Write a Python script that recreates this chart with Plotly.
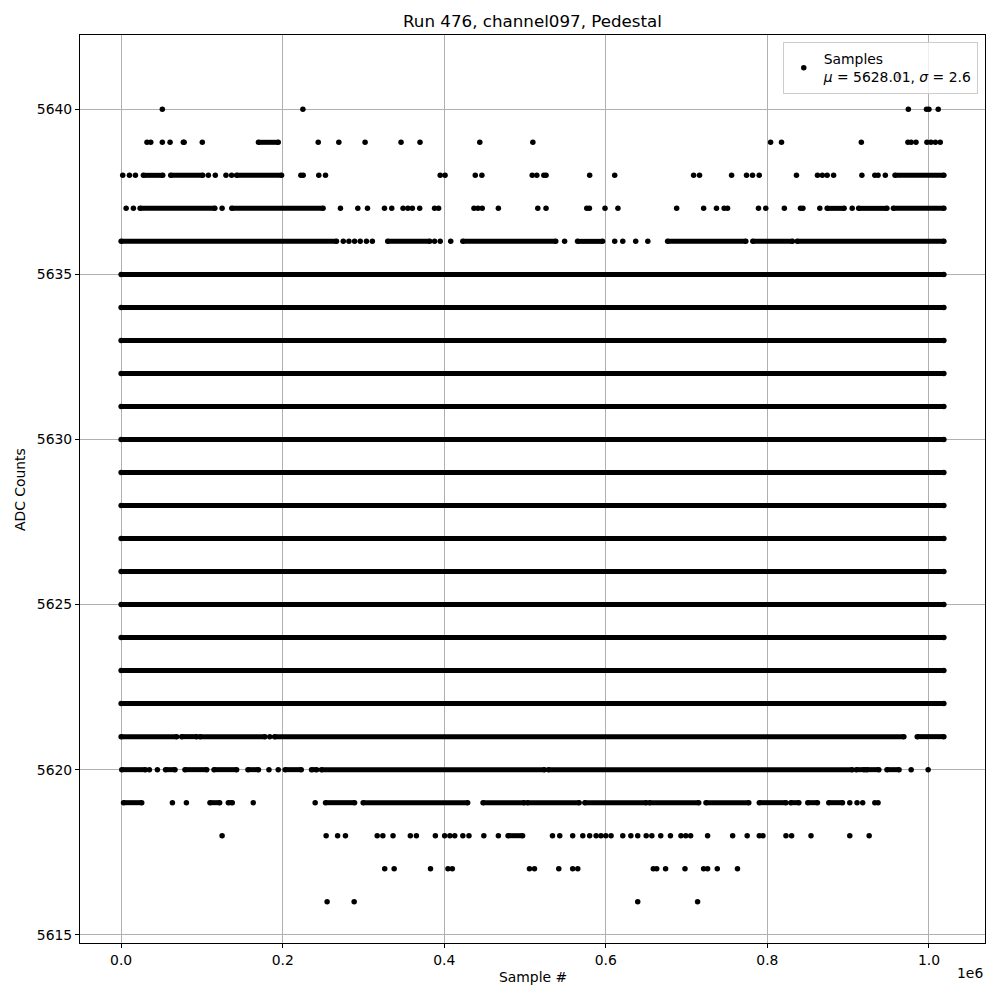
import plotly.graph_objects as go

# x values in units of the axis multiplier (1e6 samples)
X_UNIT = 1e6
X_END = 1.0185  # last sample (x1e6)

# Isolated samples per ADC value (x in 1e6 samples)
pts_5641 = [0.963]
pts_5640 = [0.051, 0.225, 0.9745, 0.997, 1.000, 1.0115]
pts_5639 = [0.032, 0.0367, 0.051, 0.0606, 0.077, 0.078, 0.1005, 0.244, 0.2695, 0.302,
            0.3465, 0.370, 0.444, 0.5097, 0.804, 0.8175, 0.9163, 0.974, 0.978, 0.984,
            0.9975, 1.0025, 1.008, 1.014]
pts_5638 = [0.002, 0.0103, 0.0177, 0.108, 0.1166, 0.1298, 0.1368, 0.2225, 0.2254, 0.2447,
            0.253, 0.395, 0.401, 0.4384, 0.4466, 0.5089, 0.5146, 0.5233, 0.526, 0.580,
            0.611, 0.7087, 0.716, 0.7557, 0.7742, 0.7816, 0.7899, 0.836, 0.862, 0.868,
            0.874, 0.882, 0.917, 0.933, 0.937, 0.946]
pts_5637 = [0.0062, 0.0152, 0.125, 0.2715, 0.293, 0.305, 0.326, 0.335, 0.349, 0.355,
            0.3605, 0.3696, 0.388, 0.393, 0.4368, 0.4417, 0.447, 0.467, 0.5158, 0.526,
            0.5764, 0.5797, 0.599, 0.615, 0.6877, 0.7211, 0.737, 0.7465, 0.7507, 0.789,
            0.798, 0.821, 0.841, 0.844, 0.8649, 0.905]
pts_5636 = [0.275, 0.282, 0.289, 0.296, 0.3037, 0.311, 0.388, 0.395, 0.408, 0.549,
            0.611, 0.621, 0.637, 0.652]
pts_5621 = [0.184]
pts_5620 = [0.035, 0.0449, 0.183, 0.1945, 0.978, 0.999]
pts_5619 = [0.0635, 0.0808, 0.1636, 0.2402, 0.902, 0.911, 0.918, 0.933, 0.937]
pts_5618 = [0.125, 0.2538, 0.268, 0.2777, 0.317, 0.324, 0.3366, 0.358, 0.3655, 0.389,
            0.4005, 0.407, 0.413, 0.423, 0.4306, 0.449, 0.467, 0.534, 0.543, 0.559,
            0.5715, 0.580, 0.588, 0.594, 0.600, 0.6065, 0.621, 0.631, 0.6395, 0.650,
            0.657, 0.668, 0.680, 0.693, 0.699, 0.705, 0.726, 0.757, 0.775, 0.790,
            0.7945, 0.823, 0.830, 0.854, 0.902, 0.926]
pts_5617 = [0.3263, 0.338, 0.383, 0.4046, 0.410, 0.5055, 0.5117, 0.5418, 0.559, 0.5653,
            0.6588, 0.663, 0.674, 0.698, 0.7211, 0.726, 0.738, 0.763]
pts_5616 = [0.255, 0.2885, 0.6395, 0.7136]

# Runs of densely packed samples (start, end) per ADC value (x in 1e6 samples)
runs_5639 = [(0.170, 0.1945)]
runs_5638 = [(0.0276, 0.0515), (0.0614, 0.101), (0.143, 0.1986), (0.958, X_END)]
runs_5637 = [(0.0235, 0.116), (0.137, 0.250), (0.874, 0.895), (0.913, 0.948), (0.956, X_END)]
runs_5636 = [(0.0, 0.2666), (0.330, 0.382), (0.423, 0.538), (0.565, 0.596),
             (0.6765, 0.7733), (0.782, 0.831), (0.837, X_END)]
full_rows = [5622, 5623, 5624, 5625, 5626, 5627, 5628, 5629, 5630, 5631, 5632, 5633, 5634, 5635]
runs_5621 = [(0.0, 0.0688), (0.075, 0.0935), (0.0976, 0.178), (0.190, 0.969), (0.9855, X_END)]
runs_5620 = [(0.0008, 0.030), (0.055, 0.0667), (0.079, 0.106), (0.115, 0.143), (0.157, 0.170),
             (0.203, 0.223), (0.2357, 0.242), (0.248, 0.524), (0.529, 0.905), (0.910, 0.920),
             (0.923, 0.938), (0.948, 0.963)]
runs_5619 = [(0.003, 0.0255), (0.110, 0.122), (0.1327, 0.1376), (0.253, 0.289), (0.2996, 0.429),
             (0.448, 0.499), (0.503, 0.567), (0.574, 0.650), (0.654, 0.715), (0.724, 0.777),
             (0.790, 0.823), (0.829, 0.839), (0.850, 0.862), (0.876, 0.893)]
runs_5618 = [(0.479, 0.497)]

x_ticks = [0.0, 0.2, 0.4, 0.6, 0.8, 1.0]
x_tick_text = ["0.0", "0.2", "0.4", "0.6", "0.8", "1.0"]
y_ticks = [5615, 5620, 5625, 5630, 5635, 5640]

points = {5641: pts_5641, 5640: pts_5640, 5639: pts_5639, 5638: pts_5638, 5637: pts_5637,
          5636: pts_5636, 5621: pts_5621, 5620: pts_5620, 5619: pts_5619, 5618: pts_5618,
          5617: pts_5617, 5616: pts_5616}
runs = {5639: runs_5639, 5638: runs_5638, 5637: runs_5637, 5636: runs_5636,
        5621: runs_5621, 5620: runs_5620, 5619: runs_5619, 5618: runs_5618}
for r in full_rows:
    runs[r] = [(0.0, X_END)]

px_, py_ = [], []
for y, xs in points.items():
    for x in xs:
        px_.append(x * X_UNIT)
        py_.append(y)

sx, sy = [], []
for y, segs in runs.items():
    for a, b in segs:
        sx += [a * X_UNIT, b * X_UNIT, None]
        sy += [y, y, None]

FONT = "DejaVu Sans"
TICK = 13.9
fig = go.Figure()
fig.add_trace(go.Scatter(x=sx, y=sy, mode="lines+markers", showlegend=False,
                         line=dict(color="black", width=5),
                         marker=dict(color="black", size=5.5), hoverinfo="skip"))
fig.add_trace(go.Scatter(x=px_, y=py_, mode="markers",
                         name="Samples<br><i>μ</i> = 5628.01, <i>σ</i> = 2.6",
                         marker=dict(color="black", size=5.5)))

axis_common = dict(showline=True, linecolor="black", linewidth=1, mirror=True,
                   ticks="outside", ticklen=4, tickcolor="black",
                   showgrid=True, gridcolor="#b0b0b0", gridwidth=1, zeroline=False,
                   tickfont=dict(family=FONT, size=TICK, color="black"))

# page body has an 8px margin; figure is sized/offset so the plot area lands at x 80-985, y 35-943
fig.update_layout(
    width=992, height=992,
    paper_bgcolor="white", plot_bgcolor="white",
    margin=dict(l=72, r=15, t=27, b=57),
    font=dict(family=FONT, size=TICK, color="black"),
    title=dict(text="Run 476, channel097, Pedestal", xref="paper", x=0.5, xanchor="center",
               y=1 - 13 / 992, yanchor="middle",
               font=dict(family=FONT, size=16.7, color="black")),
    xaxis=dict(range=[-0.0509 * X_UNIT, 1.0694 * X_UNIT],
               tickvals=[t * X_UNIT for t in x_ticks], ticktext=x_tick_text, **axis_common),
    yaxis=dict(range=[5614.75, 5642.25], tickvals=y_ticks, **axis_common),
    legend=dict(x=0.992, xanchor="right", y=0.992, yanchor="top",
                bgcolor="rgba(255,255,255,0.8)", bordercolor="#cccccc", borderwidth=1,
                font=dict(family=FONT, size=TICK, color="black")),
    annotations=[
        dict(text="Sample #", xref="paper", yref="paper", x=0.5, y=-0.0374,
             xanchor="center", yanchor="middle", showarrow=False,
             font=dict(family=FONT, size=TICK)),
        dict(text="ADC Counts", xref="paper", yref="paper", x=-0.0663, y=0.5,
             xanchor="center", yanchor="middle", textangle=-90, showarrow=False,
             font=dict(family=FONT, size=TICK)),
        dict(text="1e6", xref="paper", yref="paper", x=0.983, y=-0.033,
             xanchor="center", yanchor="middle", showarrow=False,
             font=dict(family=FONT, size=TICK)),
    ],
)

fig.write_html("out.html")
